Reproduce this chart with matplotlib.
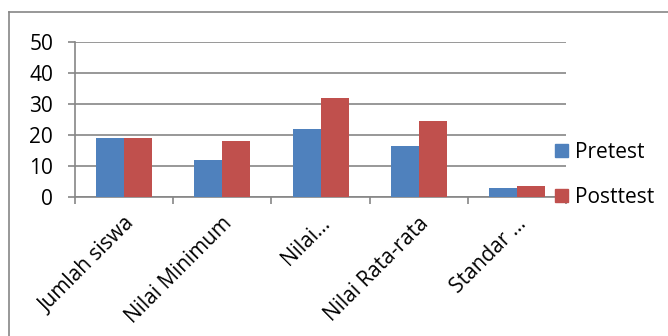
import numpy as np
import matplotlib
matplotlib.use('Agg')
import matplotlib.pyplot as plt
from matplotlib.patches import Patch

plt.rcParams['font.family'] = ['Open Sans', 'DejaVu Sans']

kategori = ['Jumlah siswa', 'Nilai Minimum', 'Nilai…', 'Nilai Rata-rata', 'Standar …']
pretest = [19, 12, 22, 16.5, 2.9]
posttest = [19, 18, 32, 24.5, 3.6]
yticks = [0, 10, 20, 30, 40, 50]

BIRU = '#4F81BD'
MERAH = '#C0504D'
ABU = '#868686'
UKURAN = 15

fig = plt.figure(figsize=(6.68, 3.36), dpi=100)
ax = fig.add_axes([0.1127, 0.4128, 0.7343, 0.4631])

x = np.arange(len(kategori))
lebar = 1 / 3.5
ax.bar(x - lebar / 2, pretest, lebar, color=BIRU, zorder=3)
ax.bar(x + lebar / 2, posttest, lebar, color=MERAH, zorder=3)

ax.set_xlim(-0.5, len(kategori) - 0.5)
ax.set_ylim(0, 50)
ax.set_yticks(yticks)
ax.yaxis.grid(True, color=ABU, linewidth=1.2, zorder=0)
ax.tick_params(axis='y', length=5, color=ABU, width=1.2, labelsize=UKURAN, pad=11)

# tick kategori di batas antar kelompok
ax.set_xticks(np.arange(len(kategori) + 1) - 0.5)
ax.set_xticklabels([])
ax.tick_params(axis='x', length=5, color=ABU, width=1.2)
for i, teks in enumerate(kategori):
    ax.text(i + 0.07, -7.5, teks, rotation=45, ha='right', va='center',
            rotation_mode='anchor', fontsize=UKURAN, transform=ax.transData)

for s in ['top', 'right']:
    ax.spines[s].set_visible(False)
ax.spines['left'].set_color(ABU)
ax.spines['bottom'].set_color(ABU)
ax.spines['left'].set_linewidth(1.2)
ax.spines['bottom'].set_linewidth(1.2)

# legenda
handles = [Patch(color=BIRU, label='Pretest'), Patch(color=MERAH, label='Posttest')]
fig.legend(handles=handles, loc='upper left', bbox_to_anchor=(0.831, 0.578),
           frameon=False, fontsize=UKURAN, handlelength=0.6, handleheight=0.6,
           handletextpad=0.35, labelspacing=1.15, borderpad=0, borderaxespad=0)

# bingkai grafik
fig.add_artist(plt.Line2D([9 / 668, 9 / 668], [0, 1 - 11.7 / 336], color=ABU, linewidth=1.2))
fig.add_artist(plt.Line2D([9 / 668, 1], [1 - 11.7 / 336, 1 - 11.7 / 336], color=ABU, linewidth=1.2))

fig.savefig('out.png', dpi=100)
